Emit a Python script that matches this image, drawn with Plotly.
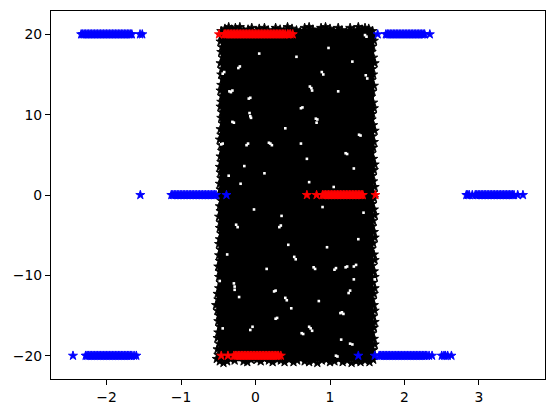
import plotly.graph_objects as go

x_ticks = [-2, -1, 0, 1, 2, 3]
y_ticks = [-20, -10, 0, 10, 20]

# Blue stars, grouped by the row they sit on
blue_top_x = [-2.34, -2.32, -2.30, -2.28, -2.26, -2.24, -2.22, -2.20, -2.18, -2.16, -2.14, -2.12, -2.10, -2.08,
              -2.06, -2.04, -2.02, -2.00, -1.98, -1.96, -1.94, -1.92, -1.90, -1.88, -1.86, -1.84, -1.82, -1.80,
              -1.78, -1.76, -1.74, -1.72, -1.70, -1.68, -1.66, -1.55, -1.52,
              1.64, 1.75, 1.77, 1.79, 1.81, 1.83, 1.85, 1.87, 1.89, 1.91, 1.93, 1.95, 1.97, 1.99, 2.01, 2.03,
              2.05, 2.07, 2.09, 2.11, 2.13, 2.15, 2.17, 2.19, 2.21, 2.23, 2.25, 2.27, 2.34]
blue_mid_x = [-1.546, -1.13, -1.11, -1.09, -1.07, -1.05, -1.03, -1.01, -0.99, -0.97, -0.95, -0.93, -0.91, -0.89,
              -0.87, -0.85, -0.83, -0.81, -0.79, -0.77, -0.75, -0.73, -0.71, -0.69, -0.67, -0.65, -0.63, -0.61,
              -0.59, -0.57, -0.55, -0.53, -0.39,
              2.83, 2.85, 2.87, 2.91, 2.95, 2.97, 2.99, 3.01, 3.03, 3.05, 3.07, 3.09, 3.11, 3.13, 3.15, 3.17,
              3.19, 3.21, 3.23, 3.25, 3.27, 3.29, 3.31, 3.33, 3.35, 3.37, 3.39, 3.41, 3.43, 3.45, 3.47, 3.52, 3.59]
blue_bot_x = [-2.45, -2.28, -2.26, -2.24, -2.22, -2.20, -2.18, -2.16, -2.14, -2.12, -2.10, -2.08, -2.06, -2.04,
              -2.02, -2.00, -1.98, -1.96, -1.94, -1.92, -1.90, -1.88, -1.86, -1.84, -1.82, -1.80, -1.78, -1.76,
              -1.74, -1.72, -1.70, -1.68, -1.66, -1.63, -1.60,
              1.38, 1.60, 1.66, 1.68, 1.70, 1.72, 1.74, 1.76, 1.78, 1.80, 1.82, 1.84, 1.86, 1.88, 1.90, 1.92,
              1.94, 1.96, 1.98, 2.00, 2.02, 2.04, 2.06, 2.08, 2.10, 2.12, 2.14, 2.16, 2.18, 2.20, 2.22, 2.24,
              2.26, 2.28, 2.30, 2.33, 2.37, 2.50, 2.53, 2.55, 2.58, 2.63]

# Red stars
red_top_x = [-0.49, -0.42, -0.40, -0.38, -0.36, -0.34, -0.32, -0.30, -0.28, -0.26, -0.24, -0.22, -0.20, -0.18,
             -0.16, -0.14, -0.12, -0.10, -0.08, -0.06, -0.04, -0.02, 0.00, 0.02, 0.04, 0.06, 0.08, 0.10, 0.12,
             0.14, 0.16, 0.18, 0.20, 0.22, 0.24, 0.26, 0.28, 0.30, 0.32, 0.34, 0.36, 0.38, 0.40, 0.43, 0.45, 0.47,
             0.50]
red_mid_x = [0.69, 0.82, 0.90, 0.92, 0.94, 0.96, 0.98, 1.00, 1.02, 1.04, 1.06, 1.08, 1.10, 1.12, 1.14, 1.16, 1.18,
             1.20, 1.22, 1.24, 1.26, 1.28, 1.30, 1.32, 1.34, 1.36, 1.38, 1.40, 1.42, 1.44, 1.61]
red_bot_x = [-0.46, -0.37, -0.29, -0.27, -0.25, -0.23, -0.21, -0.19, -0.17, -0.15, -0.13, -0.11, -0.09, -0.07,
             -0.05, -0.03, -0.01, 0.01, 0.03, 0.05, 0.07, 0.09, 0.11, 0.13, 0.15, 0.17, 0.19, 0.21, 0.23, 0.25,
             0.27, 0.29, 0.31, 0.34]

# Overall extent of the dense black cloud, read from its edges
cloud_x = [-0.46, 1.59, 1.59, 1.58, 1.59, -0.49, -0.52, -0.49, -0.46]
cloud_y = [20.7, 20.7, 5.0, -10.0, -20.7, -20.7, -14.0, -5.0, 20.7]

# Stars that form the jagged rim of the cloud
rim_top_x = [-0.46, -0.41, -0.36, -0.32, -0.27, -0.21, -0.16, -0.10, -0.05, 0.01, 0.05, 0.12, 0.17, 0.23, 0.27,
             0.33, 0.38, 0.43, 0.49, 0.55, 0.60, 0.66, 0.72, 0.77, 0.84, 0.88, 0.94, 1.00, 1.05, 1.11, 1.16, 1.22,
             1.27, 1.32, 1.38, 1.43, 1.47, 1.52, 1.57]
rim_top_y = [20.4, 20.7, 20.9, 20.6, 20.8, 20.9, 20.5, 20.6, 20.8, 20.4, 20.7, 20.8, 20.5, 20.4, 20.8, 20.6,
             20.4, 20.9, 20.7, 20.5, 20.3, 20.8, 20.9, 20.6, 20.4, 20.8, 20.9, 20.7, 20.4, 20.8, 20.5, 20.3,
             20.8, 20.5, 20.9, 20.6, 20.8, 20.7, 20.4]
rim_bot_x = [-0.52, -0.48, -0.43, -0.38, -0.34, -0.28, -0.22, -0.16, -0.11, -0.06, -0.03, 0.02, 0.07, 0.12, 0.18,
             0.23, 0.29, 0.34, 0.39, 0.45, 0.51, 0.56, 0.61, 0.66, 0.72, 0.78, 0.83, 0.89, 0.95, 1.00, 1.06, 1.12,
             1.17, 1.23, 1.29, 1.35, 1.41, 1.47, 1.53, 1.58]
rim_bot_y = [-20.4, -20.7, -20.9, -20.7, -20.4, -20.6, -20.2, -20.7, -20.8, -20.5, -20.1, -20.5, -20.7, -20.4,
             -20.6, -20.8, -20.5, -20.6, -20.8, -20.5, -20.8, -20.6, -20.3, -20.7, -20.8, -20.6, -20.9, -20.6,
             -20.5, -20.8, -20.7, -20.4, -20.8, -20.6, -20.9, -20.7, -20.8, -20.6, -20.8, -20.5]
rim_left_x = [-0.46, -0.47, -0.45, -0.46, -0.44, -0.47, -0.45, -0.46, -0.44, -0.46, -0.47, -0.45, -0.46, -0.47,
              -0.45, -0.46, -0.44, -0.47, -0.46, -0.48, -0.46, -0.45, -0.47, -0.46, -0.48, -0.47, -0.46, -0.48,
              -0.47, -0.49, -0.46, -0.48, -0.47, -0.49, -0.47, -0.48, -0.46, -0.48, -0.49, -0.47, -0.49, -0.48,
              -0.50, -0.48, -0.49, -0.47, -0.49, -0.51, -0.50, -0.53, -0.51, -0.49, -0.50, -0.48, -0.50, -0.51,
              -0.49, -0.51, -0.50]
rim_left_y = [19.8, 19.1, 18.4, 17.8, 17.1, 16.4, 15.7, 15.0, 14.4, 13.7, 13.0, 12.3, 11.6, 11.0, 10.3, 9.6, 8.9,
              8.2, 7.5, 6.9, 6.2, 5.5, 4.8, 4.1, 3.5, 2.8, 2.1, 1.4, 0.7, 0.0, -0.7, -1.4, -2.0, -2.7, -3.4, -4.1,
              -4.8, -5.5, -6.1, -6.8, -7.5, -8.2, -8.9, -9.5, -10.2, -10.9, -11.6, -12.3, -13.0, -13.7, -14.4,
              -15.0, -15.7, -16.4, -17.1, -17.8, -18.5, -19.2, -19.9]
rim_right_x = [1.58, 1.59, 1.57, 1.56, 1.58, 1.60, 1.57, 1.58, 1.56, 1.59, 1.57, 1.55, 1.58, 1.59, 1.57, 1.56,
               1.58, 1.60, 1.57, 1.59, 1.58, 1.56, 1.58, 1.60, 1.59, 1.57, 1.58, 1.60, 1.58, 1.59, 1.57, 1.59,
               1.60, 1.58, 1.57, 1.59, 1.60, 1.58, 1.56, 1.59, 1.60, 1.57, 1.59, 1.60, 1.58, 1.60, 1.59, 1.57,
               1.59, 1.60, 1.58, 1.60, 1.59, 1.57, 1.59, 1.60, 1.58, 1.59]
rim_right_y = [19.9, 19.2, 18.5, 17.8, 17.1, 16.4, 15.7, 15.0, 14.3, 13.6, 12.9, 12.2, 11.5, 10.8, 10.1, 9.4, 8.7,
               8.0, 7.3, 6.6, 5.9, 5.2, 4.5, 3.8, 3.1, 2.4, 1.7, 1.0, 0.3, -0.4, -1.1, -1.8, -2.5, -3.2, -3.9,
               -4.6, -5.3, -6.0, -6.7, -7.4, -8.1, -8.8, -9.5, -10.2, -10.9, -11.6, -12.3, -13.0, -13.7, -14.4,
               -15.1, -15.8, -16.5, -17.2, -17.9, -18.6, -19.3, -20.0]

# White specks inside the cloud; neighbouring specks make up the larger gaps
gap_x = [-0.35, -0.33, -0.31, -0.08, -0.07, -0.06, 0.73, 0.75, 0.76, 0.61, 0.63, 0.81, 0.83, 0.82, 0.89, 0.91, 1.48,
         1.50, 0.18, 0.20, 0.22, -0.12, -0.10, -0.29, -0.28, -0.28, 0.25, 0.27, 0.40, 0.42, 1.14, 1.16, 1.18, 0.72,
         0.74, 0.76, -0.07, -0.04, 1.47, 1.49, 1.27, 1.30, 1.08, 1.10, 0.52, 0.54, 1.32, 1.35, -0.44, -0.42,
         -0.23, -0.21, -0.09, -0.07, -0.46, -0.44, 0.61, 1.21, 1.23, 1.39, 1.41, 0.40, -0.31, -0.29, 1.11, 0.69, -0.15,
         1.32, -0.36, -0.26, -0.24, 0.32, 0.34, 0.44, 0.96, 1.38, 0.78, 0.80, 1.06, 1.08, 1.21, 1.23, 1.32, 1.60,
         1.25, 1.27, -0.22, 0.27, 0.29, -0.44, -0.48, 0.62, 0.64, 0.05, 0.55, 0.98, 1.30, -0.20, 0.12, 0.72, 1.05,
         -0.02, 0.35, 0.90, 1.45, -0.38, 0.15, 0.48, 1.15, 0.85]
gap_y = [12.9, 12.8, 13.0, 10.2, 9.8, 9.6, 13.5, 13.3, 13.0, 10.8, 10.9, 9.5, 9.4, 9.0, 15.3, 15.0, 14.9, 14.5, 6.5,
         6.4, 6.2, 6.2, 6.4, -11.0, -11.4, -11.8, -12.0, -11.9, -12.8, -13.1, -14.7, -14.6, -14.8, -16.4, -16.6,
         -16.9, -16.8, -16.4, 19.9, 19.7, -18.5, -18.6, -20.0, -20.1, -7.7, -8.0, -8.9, -8.7, 15.1, 15.3,
         15.8, 16.0, 12.0, 12.1, 6.3, 6.4, 6.4, 5.2, 5.1, 7.5, 7.4, 8.3, 9.1, 9.0, 12.9, 4.5, 3.6, 3.3, 2.4, -3.7, -4.0,
         -4.0, -3.8, -6.2, -6.5, -5.5, -9.0, -9.2, -9.3, -9.1, -9.0, -8.9, -10.5, -10.5, -12.2, -11.9, -12.7, -15.4,
         -15.3, -16.6, -10.7, -17.2, -17.3, 17.6, 17.2, 18.3, 16.6, 1.4, 2.7, 1.6, 1.0, -1.8, -2.6, -1.5, -2.2, -7.4,
         -9.2, -14.1, -18.0, -13.2]

fig = go.Figure()


def stars(xs, ys, color):
    fig.add_trace(go.Scatter(x=xs, y=ys, mode="markers", hoverinfo="skip",
                             marker=dict(symbol="star", size=6.8, color=color, line=dict(width=0.9, color=color))))


fig.add_trace(go.Scatter(x=cloud_x, y=cloud_y, mode="lines", fill="toself", fillcolor="black",
                         line=dict(width=0, color="black"), hoverinfo="skip"))
stars(rim_top_x + rim_bot_x + rim_left_x + rim_right_x, rim_top_y + rim_bot_y + rim_left_y + rim_right_y, "black")
fig.add_trace(go.Scatter(x=gap_x, y=gap_y, mode="markers", hoverinfo="skip",
                         marker=dict(symbol="square", size=2.6, color="white", line=dict(width=0))))
stars(blue_top_x, [20] * len(blue_top_x), "blue")
stars(blue_mid_x, [0] * len(blue_mid_x), "blue")
stars(blue_bot_x, [-20] * len(blue_bot_x), "blue")
stars(red_top_x, [20] * len(red_top_x), "red")
stars(red_mid_x, [0] * len(red_mid_x), "red")
stars(red_bot_x, [-20] * len(red_bot_x), "red")

axis = dict(showgrid=False, zeroline=False, showline=True, mirror=True, linecolor="black", linewidth=1.1,
            ticks="outside", ticklen=5, tickwidth=1.1, tickcolor="black", tickmode="array")
fig.update_layout(
    width=547, height=405, showlegend=False,
    margin=dict(l=43, r=10, t=3, b=34),
    paper_bgcolor="white", plot_bgcolor="white",
    font=dict(family="DejaVu Sans", size=13.9, color="black"),
    xaxis=dict(axis, range=[-2.745, 3.886], tickvals=x_ticks),
    yaxis=dict(axis, range=[-22.9, 22.9], tickvals=y_ticks),
)
fig.write_html("out.html")
